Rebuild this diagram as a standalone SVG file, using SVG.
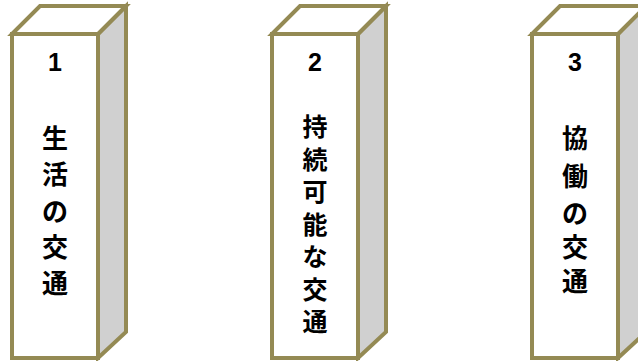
<svg xmlns="http://www.w3.org/2000/svg" width="638" height="361" viewBox="0 0 638 361">
<defs>
<style>
.front{fill:#ffffff;stroke:#948A54;stroke-width:4;stroke-linejoin:miter}
.top{fill:#ffffff;stroke:#948A54;stroke-width:4;stroke-linejoin:miter}
.side{fill:#D0D0D0;stroke:#948A54;stroke-width:4;stroke-linejoin:miter}
.num{font-family:"Liberation Sans",Arial,sans-serif;font-weight:bold;font-size:25px;fill:#000;text-anchor:middle}
.jp{font-family:"Noto Sans CJK JP","Noto Sans CJK SC",sans-serif;font-weight:bold;font-size:26px;fill:#000;text-anchor:middle;dominant-baseline:central}
.jp2{font-size:25px}
</style>
</defs>
<g id="pillar1">
<polygon class="side" points="98,34 126,6 126,332 98,358"/>
<polygon class="top" points="12,34 40,6 126,6 98,34"/>
<rect class="front" x="12" y="34" width="86" height="324"/>
<text class="num" x="55" y="71">1</text>
<text class="jp" x="55" y="136">生</text>
<text class="jp" x="55" y="172">活</text>
<text class="jp" x="55" y="209">の</text>
<text class="jp" x="55" y="245">交</text>
<text class="jp" x="55" y="281">通</text>
</g>
<g id="pillar2">
<polygon class="side" points="358,34 386,6 386,332 358,358"/>
<polygon class="top" points="272,34 300,6 386,6 358,34"/>
<rect class="front" x="272" y="34" width="86" height="324"/>
<text class="num" x="315" y="71">2</text>
<text class="jp jp2" x="315" y="125">持</text>
<text class="jp jp2" x="315" y="157.5">続</text>
<text class="jp jp2" x="315" y="190">可</text>
<text class="jp jp2" x="315" y="222.5">能</text>
<text class="jp jp2" x="315" y="255">な</text>
<text class="jp jp2" x="315" y="287.5">交</text>
<text class="jp jp2" x="315" y="320">通</text>
</g>
<g id="pillar3">
<polygon class="side" points="618,34 646,6 646,332 618,358"/>
<polygon class="top" points="532,34 560,6 646,6 618,34"/>
<rect class="front" x="532" y="34" width="86" height="324"/>
<text class="num" x="575" y="71">3</text>
<text class="jp" x="575" y="136">協</text>
<text class="jp" x="575" y="174">働</text>
<text class="jp" x="575" y="211">の</text>
<text class="jp" x="575" y="245">交</text>
<text class="jp" x="575" y="279">通</text>
</g>
<g id="connectors"/>
</svg>
